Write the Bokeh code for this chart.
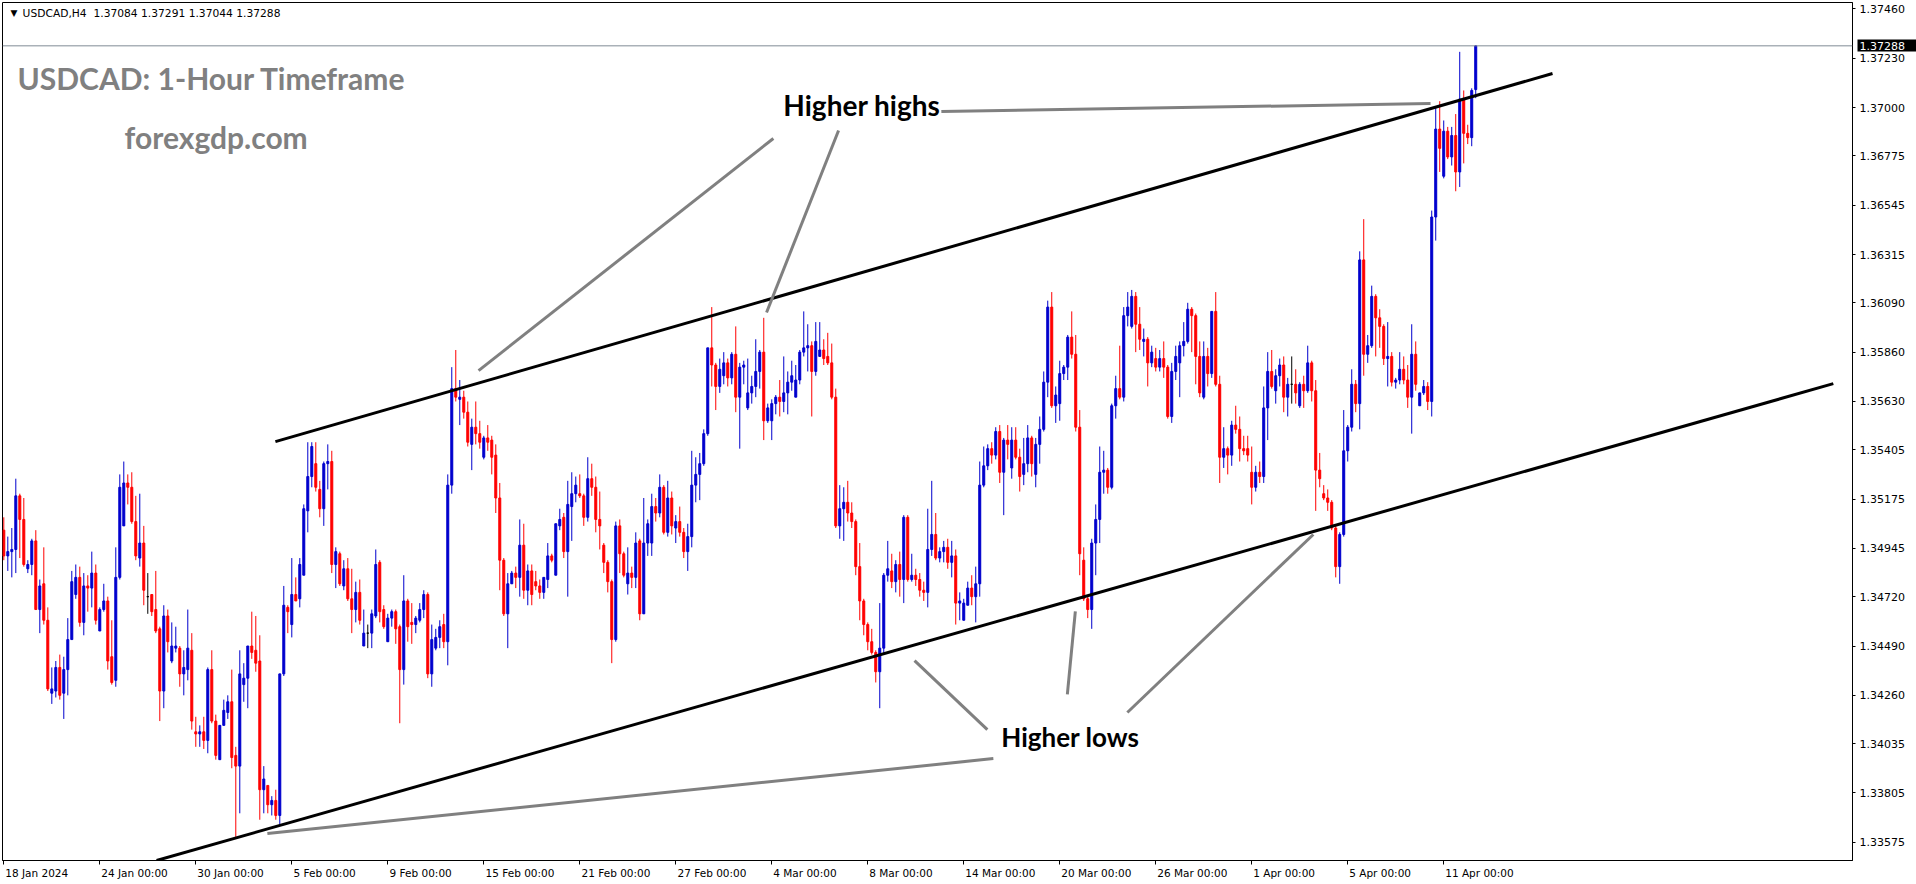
from bokeh.plotting import figure
from bokeh.models import (Range1d, FixedTicker, PrintfTickFormatter, ColumnDataSource, Span,
                          LinearAxis, CustomJSTickFormatter)
from bokeh.core.properties import value
from bokeh.embed import file_html
from bokeh.resources import INLINE

# ---------------- data (USDCAD H4, bar index 0 = 18 Jan 2024 00:00) ----------------
opens = [
1.3503,1.3491,1.3493,1.3494,1.3519,1.3508,1.3485,1.3487,1.3498,1.3466,
1.3478,1.3461,1.3427,1.3428,1.3439,1.3427,1.3438,1.3452,1.3473,1.3481,
1.3460,1.3477,1.3476,1.3483,1.3456,1.3466,1.3470,1.3444,1.3433,1.3481,
1.3505,1.3525,1.3523,1.3507,1.3490,1.3497,1.3472,1.3473,1.3466,1.3457,
1.3428,1.3463,1.3442,1.3448,1.3448,1.3436,1.3438,1.3447,1.3409,1.3408,
1.3409,1.3405,1.3438,1.3414,1.3396,1.3412,1.3418,1.3423,1.3398,1.3393,
1.3431,1.3434,1.3449,1.3447,1.3442,1.3382,1.3384,1.3375,1.3377,1.3370,
1.3436,1.3467,1.3459,1.3473,1.3471,1.3482,1.3512,1.3528,1.3534,1.3522,
1.3513,1.3534,1.3535,1.3487,1.3492,1.3477,1.3485,1.3471,1.3466,1.3474,
1.3449,1.3455,1.3455,1.3463,1.3488,1.3466,1.3451,1.3462,1.3465,1.3458,
1.3438,1.3470,1.3460,1.3459,1.3461,1.3466,1.3473,1.3436,1.3448,1.3453,
1.3459,1.3451,1.3524,1.3569,1.3564,1.3565,1.3558,1.3543,1.3551,1.3548,
1.3537,1.3546,1.3545,1.3538,1.3518,1.3489,1.3464,1.3478,1.3483,1.3481,
1.3496,1.3475,1.3484,1.3479,1.3477,1.3474,1.3480,1.3491,1.3482,1.3505,
1.3509,1.3493,1.3514,1.3520,1.3520,1.3519,1.3509,1.3527,1.3523,1.3508,
1.3496,1.3488,1.3479,1.3452,1.3505,1.3492,1.3478,1.3483,1.3481,1.3498,
1.3464,1.3497,1.3497,1.3514,1.3511,1.3523,1.3502,1.3518,1.3504,1.3507,
1.3502,1.3493,1.3500,1.3524,1.3529,1.3534,1.3548,1.3588,1.3580,1.3570,
1.3575,1.3581,1.3574,1.3585,1.3565,1.3579,1.3560,1.3567,1.3570,1.3577,
1.3586,1.3554,1.3554,1.3562,1.3565,1.3563,1.3567,1.3572,1.3565,1.3573,
1.3586,1.3588,1.3589,1.3577,1.3584,1.3587,1.3584,1.3581,1.3565,1.3505,
1.3513,1.3516,1.3511,1.3507,1.3486,1.3470,1.3459,1.3451,1.3446,1.3437,
1.3448,1.3482,1.3484,1.3479,1.3487,1.3480,1.3509,1.3480,1.3482,1.3480,
1.3475,1.3474,1.3494,1.3501,1.3490,1.3493,1.3495,1.3488,1.3491,1.3469,
1.3461,1.3468,1.3476,1.3472,1.3478,1.3524,1.3533,1.3541,1.3538,1.3549,
1.3530,1.3545,1.3532,1.3545,1.3537,1.3529,1.3534,1.3546,1.3529,1.3543,
1.3550,1.3572,1.3607,1.3561,1.3562,1.3576,1.3579,1.3593,1.3585,1.3551,
1.3489,1.3471,1.3466,1.3497,1.3508,1.3530,1.3531,1.3523,1.3561,1.3569,
1.3565,1.3603,1.3598,1.3612,1.3599,1.3591,1.3592,1.3581,1.3583,1.3579,
1.3583,1.3579,1.3556,1.3577,1.3581,1.3589,1.3591,1.3606,1.3603,1.3584,
1.3565,1.3584,1.3576,1.3605,1.3571,1.3537,1.3541,1.3538,1.3552,1.3550,
1.3541,1.3541,1.3530,1.3523,1.3530,1.3528,1.3560,1.3577,1.3568,1.3575,
1.3580,1.3565,1.3571,1.3571,1.3561,1.3571,1.3568,1.3581,1.3568,1.3531,
1.3520,1.3518,1.3516,1.3504,1.3486,1.3501,1.3540,1.3551,1.3571,1.3562,
1.3629,1.3585,1.3589,1.3612,1.3602,1.3598,1.3583,1.3584,1.3572,1.3573,
1.3578,1.3573,1.3565,1.3585,1.3561,1.3567,1.3570,1.3563,1.3649,1.3690,
1.3668,1.3689,1.3677,1.3687,1.3670,1.3704,1.3688,1.3686,1.37084,
]
highs = [
1.3509,1.3500,1.3504,1.3527,1.3520,1.3518,1.3489,1.3499,1.3503,1.3480,
1.3495,1.3467,1.3439,1.3442,1.3445,1.3444,1.3462,1.3484,1.3487,1.3486,
1.3483,1.3482,1.3493,1.3487,1.3467,1.3478,1.3472,1.3461,1.3495,1.3529,
1.3535,1.3529,1.3530,1.3519,1.3520,1.3505,1.3483,1.3473,1.3484,1.3458,
1.3468,1.3466,1.3460,1.3458,1.3449,1.3447,1.3466,1.3455,1.3416,1.3412,
1.3416,1.3439,1.3447,1.3417,1.3412,1.3424,1.3426,1.3438,1.3402,1.3447,
1.3441,1.3449,1.3465,1.3463,1.3454,1.3393,1.3384,1.3379,1.3382,1.3436,
1.3477,1.3468,1.3490,1.3481,1.3490,1.3515,1.3544,1.3544,1.3544,1.3526,
1.3535,1.3543,1.3540,1.3495,1.3493,1.3489,1.3490,1.3485,1.3479,1.3480,
1.3466,1.3459,1.3466,1.3494,1.3489,1.3468,1.3464,1.3466,1.3466,1.3459,
1.3482,1.3471,1.3469,1.3463,1.3469,1.3475,1.3474,1.3459,1.3457,1.3461,
1.3464,1.3529,1.3579,1.3587,1.3573,1.3568,1.3563,1.3555,1.3563,1.3554,
1.3547,1.3552,1.3547,1.3543,1.3525,1.3490,1.3483,1.3484,1.3486,1.3508,
1.3506,1.3487,1.3487,1.3484,1.3480,1.3481,1.3497,1.3492,1.3506,1.3513,
1.3511,1.3526,1.3530,1.3528,1.3529,1.3520,1.3537,1.3534,1.3528,1.3521,
1.3497,1.3489,1.3480,1.3507,1.3508,1.3493,1.3495,1.3486,1.3502,1.3499,
1.3518,1.3508,1.3520,1.3518,1.3529,1.3524,1.3526,1.3521,1.3510,1.3514,
1.3504,1.3506,1.3540,1.3537,1.3539,1.3550,1.3588,1.3607,1.3581,1.3583,
1.3586,1.3583,1.3586,1.3598,1.3581,1.3582,1.3583,1.3575,1.3592,1.3587,
1.3602,1.3562,1.3564,1.3566,1.3573,1.3584,1.3577,1.3582,1.3580,1.3587,
1.3605,1.3599,1.3591,1.3600,1.3600,1.3592,1.3595,1.3590,1.3569,1.3524,
1.3523,1.3526,1.3516,1.3508,1.3497,1.3471,1.3460,1.3457,1.3447,1.3469,
1.3483,1.3498,1.3492,1.3489,1.3493,1.3510,1.3510,1.3492,1.3485,1.3483,
1.3479,1.3513,1.3526,1.3511,1.3495,1.3498,1.3499,1.3498,1.3494,1.3474,
1.3471,1.3479,1.3482,1.3486,1.3535,1.3542,1.3543,1.3544,1.3551,1.3552,
1.3546,1.3552,1.3551,1.3551,1.3541,1.3546,1.3552,1.3547,1.3546,1.3556,
1.3577,1.3610,1.3614,1.3570,1.3582,1.3580,1.3594,1.3605,1.3594,1.3559,
1.3495,1.3472,1.3499,1.3515,1.3542,1.3540,1.3532,1.3562,1.3575,1.3589,
1.3607,1.3614,1.3615,1.3614,1.3607,1.3597,1.3593,1.3589,1.3588,1.3587,
1.3591,1.3580,1.3581,1.3589,1.3591,1.3600,1.3609,1.3607,1.3604,1.3591,
1.3591,1.3588,1.3605,1.3614,1.3575,1.3551,1.3542,1.3554,1.3561,1.3556,
1.3547,1.3547,1.3542,1.3533,1.3535,1.3570,1.3586,1.3587,1.3578,1.3583,
1.3584,1.3574,1.3584,1.3578,1.3572,1.3575,1.3589,1.3582,1.3573,1.3539,
1.3524,1.3522,1.3517,1.3505,1.3502,1.3559,1.3552,1.3578,1.3573,1.3633,
1.3648,1.3594,1.3617,1.3613,1.3606,1.3599,1.3600,1.3586,1.3574,1.3586,
1.3584,1.3580,1.3599,1.3591,1.3567,1.3573,1.3572,1.3652,1.3700,1.3703,
1.3694,1.3691,1.3691,1.3697,1.3726,1.3708,1.3692,1.3709,1.37291,
]
lows = [
1.3489,1.3484,1.3481,1.3483,1.3490,1.3486,1.3483,1.3482,1.3466,1.3455,
1.3459,1.3428,1.3422,1.3425,1.3424,1.3415,1.3426,1.3452,1.3471,1.3458,
1.3454,1.3465,1.3467,1.3459,1.3456,1.3465,1.3438,1.3431,1.3430,1.3480,
1.3505,1.3515,1.3506,1.3489,1.3486,1.3468,1.3464,1.3463,1.3455,1.3414,
1.3420,1.3446,1.3441,1.3446,1.3430,1.3426,1.3433,1.3410,1.3402,1.3402,
1.3401,1.3399,1.3413,1.3396,1.3396,1.3412,1.3415,1.3392,1.3360,1.3371,
1.3423,1.3420,1.3443,1.3437,1.3368,1.3371,1.3371,1.3370,1.3368,1.3366,
1.3435,1.3455,1.3453,1.3470,1.3467,1.3482,1.3502,1.3523,1.3521,1.3509,
1.3505,1.3522,1.3483,1.3476,1.3477,1.3475,1.3470,1.3455,1.3460,1.3459,
1.3449,1.3448,1.3448,1.3462,1.3460,1.3457,1.3451,1.3458,1.3450,1.3413,
1.3431,1.3451,1.3450,1.3455,1.3460,1.3462,1.3434,1.3430,1.3447,1.3448,
1.3448,1.3440,1.3520,1.3563,1.3552,1.3555,1.3542,1.3531,1.3543,1.3541,
1.3536,1.3540,1.3529,1.3511,1.3475,1.3463,1.3448,1.3478,1.3476,1.3472,
1.3471,1.3468,1.3468,1.3475,1.3471,1.3471,1.3476,1.3488,1.3482,1.3503,
1.3490,1.3472,1.3498,1.3516,1.3518,1.3505,1.3507,1.3519,1.3502,1.3494,
1.3483,1.3474,1.3441,1.3451,1.3483,1.3481,1.3473,1.3476,1.3476,1.3461,
1.3464,1.3491,1.3491,1.3507,1.3509,1.3501,1.3500,1.3501,1.3497,1.3500,
1.3490,1.3484,1.3495,1.3516,1.3517,1.3533,1.3547,1.3570,1.3559,1.3567,
1.3571,1.3570,1.3571,1.3558,1.3541,1.3571,1.3559,1.3562,1.3565,1.3569,
1.3545,1.3553,1.3545,1.3557,1.3556,1.3558,1.3557,1.3568,1.3565,1.3571,
1.3584,1.3577,1.3556,1.3575,1.3584,1.3580,1.3580,1.3564,1.3504,1.3499,
1.3498,1.3507,1.3504,1.3482,1.3461,1.3454,1.3447,1.3445,1.3432,1.3420,
1.3445,1.3479,1.3476,1.3474,1.3472,1.3469,1.3479,1.3479,1.3477,1.3472,
1.3470,1.3467,1.3491,1.3489,1.3488,1.3488,1.3485,1.3481,1.3459,1.3461,
1.3461,1.3468,1.3468,1.3460,1.3472,1.3523,1.3531,1.3534,1.3536,1.3525,
1.3510,1.3536,1.3527,1.3536,1.3521,1.3524,1.3530,1.3528,1.3523,1.3534,
1.3549,1.3565,1.3560,1.3553,1.3554,1.3573,1.3573,1.3583,1.3549,1.3482,
1.3470,1.3462,1.3457,1.3482,1.3497,1.3520,1.3520,1.3522,1.3555,1.3564,
1.3563,1.3598,1.3597,1.3586,1.3587,1.3584,1.3570,1.3579,1.3577,1.3577,
1.3574,1.3555,1.3553,1.3573,1.3565,1.3584,1.3590,1.3586,1.3571,1.3565,
1.3564,1.3570,1.3574,1.3570,1.3525,1.3532,1.3529,1.3533,1.3548,1.3535,
1.3538,1.3535,1.3515,1.3521,1.3525,1.3525,1.3545,1.3569,1.3562,1.3570,
1.3558,1.3556,1.3562,1.3562,1.3560,1.3560,1.3567,1.3563,1.3512,1.3523,
1.3517,1.3512,1.3503,1.3481,1.3478,1.3500,1.3535,1.3549,1.3558,1.3550,
1.3575,1.3581,1.3588,1.3584,1.3588,1.3580,1.3570,1.3570,1.3569,1.3571,
1.3571,1.3560,1.3548,1.3568,1.3561,1.3566,1.3559,1.3556,1.3638,1.3670,
1.3667,1.3676,1.3673,1.3661,1.3663,1.3674,1.3683,1.3682,1.37044,
]
closes = [
1.3491,1.3493,1.3494,1.3519,1.3508,1.3487,1.3487,1.3498,1.3466,1.3477,
1.3461,1.3429,1.3429,1.3439,1.3426,1.3438,1.3452,1.3479,1.3481,1.3460,
1.3477,1.3476,1.3483,1.3461,1.3466,1.3470,1.3442,1.3432,1.3481,1.3523,
1.3525,1.3523,1.3507,1.3491,1.3497,1.3475,1.3472,1.3465,1.3456,1.3428,
1.3463,1.3451,1.3449,1.3449,1.3436,1.3439,1.3448,1.3414,1.3408,1.3409,
1.3405,1.3438,1.3414,1.3398,1.3412,1.3419,1.3423,1.3397,1.3393,1.3436,
1.3434,1.3449,1.3446,1.3441,1.3382,1.3387,1.3375,1.3377,1.3370,1.3436,
1.3468,1.3465,1.3473,1.3470,1.3487,1.3513,1.3528,1.3542,1.3523,1.3513,
1.3534,1.3535,1.3487,1.3493,1.3478,1.3485,1.3471,1.3466,1.3474,1.3461,
1.3455,1.3455,1.3464,1.3487,1.3465,1.3458,1.3462,1.3465,1.3457,1.3438,
1.3470,1.3458,1.3459,1.3462,1.3466,1.3473,1.3436,1.3452,1.3453,1.3458,
1.3451,1.3524,1.3569,1.3565,1.3565,1.3558,1.3544,1.3551,1.3548,1.3544,
1.3546,1.3544,1.3537,1.3518,1.3489,1.3464,1.3478,1.3483,1.3481,1.3496,
1.3475,1.3484,1.3473,1.3477,1.3474,1.3481,1.3491,1.3489,1.3506,1.3508,
1.3493,1.3515,1.3520,1.3524,1.3519,1.3509,1.3527,1.3523,1.3508,1.3505,
1.3488,1.3479,1.3452,1.3505,1.3492,1.3482,1.3483,1.3481,1.3497,1.3464,
1.3497,1.3506,1.3514,1.3511,1.3523,1.3502,1.3518,1.3505,1.3507,1.3502,
1.3493,1.3500,1.3524,1.3529,1.3534,1.3548,1.3588,1.3580,1.3570,1.3578,
1.3581,1.3574,1.3585,1.3565,1.3579,1.3580,1.3567,1.3570,1.3577,1.3586,
1.3554,1.3560,1.3562,1.3565,1.3563,1.3567,1.3572,1.3575,1.3573,1.3586,
1.3588,1.3589,1.3577,1.3591,1.3587,1.3583,1.3581,1.3565,1.3505,1.3513,
1.3516,1.3511,1.3507,1.3486,1.3470,1.3459,1.3451,1.3446,1.3437,1.3448,
1.3482,1.3485,1.3479,1.3487,1.3480,1.3509,1.3480,1.3482,1.3480,1.3475,
1.3474,1.3494,1.3501,1.3490,1.3493,1.3495,1.3488,1.3491,1.3469,1.3470,
1.3469,1.3476,1.3472,1.3478,1.3524,1.3533,1.3541,1.3538,1.3549,1.3530,
1.3545,1.3543,1.3545,1.3537,1.3528,1.3534,1.3546,1.3534,1.3543,1.3550,
1.3572,1.3607,1.3561,1.3566,1.3576,1.3579,1.3593,1.3585,1.3551,1.3492,
1.3471,1.3466,1.3497,1.3508,1.3530,1.3531,1.3523,1.3561,1.3569,1.3565,
1.3603,1.3607,1.3612,1.3599,1.3592,1.3592,1.3581,1.3586,1.3579,1.3583,
1.3579,1.3556,1.3577,1.3584,1.3589,1.3591,1.3606,1.3603,1.3584,1.3567,
1.3584,1.3576,1.3605,1.3571,1.3537,1.3541,1.3538,1.3552,1.3550,1.3541,
1.3540,1.3538,1.3523,1.3530,1.3528,1.3560,1.3577,1.3570,1.3575,1.3580,
1.3565,1.3571,1.3571,1.3567,1.3571,1.3568,1.3581,1.3568,1.3531,1.3527,
1.3518,1.3516,1.3504,1.3486,1.3501,1.3540,1.3551,1.3571,1.3562,1.3629,
1.3585,1.3589,1.3612,1.3602,1.3598,1.3583,1.3584,1.3572,1.3573,1.3578,
1.3573,1.3565,1.3585,1.3571,1.3567,1.3570,1.3563,1.3649,1.3690,1.3681,
1.3689,1.3677,1.3687,1.3670,1.3704,1.3688,1.3686,1.3708,1.37288,
]

y_ticks = [1.37460, 1.37230, 1.37000, 1.36775, 1.36545, 1.36315, 1.36090, 1.35860, 1.35630,
           1.35405, 1.35175, 1.34945, 1.34720, 1.34490, 1.34260, 1.34035, 1.33805, 1.33575]
x_tick_bars = [0, 24, 48, 72, 96, 120, 144, 168, 192, 216, 240, 264, 288, 312, 336, 360]
x_tick_labels = ["18 Jan 2024", "24 Jan 00:00", "30 Jan 00:00", "5 Feb 00:00", "9 Feb 00:00",
                 "15 Feb 00:00", "21 Feb 00:00", "27 Feb 00:00", "4 Mar 00:00", "8 Mar 00:00",
                 "14 Mar 00:00", "20 Mar 00:00", "26 Mar 00:00", "1 Apr 00:00", "5 Apr 00:00",
                 "11 Apr 00:00"]
last_price = 1.37288
header_text = "USDCAD,H4\u00a0 1.37084 1.37291 1.37044 1.37288"

# trend channel (bar index, price)
upper_channel_x = [67.9, 387.2]
upper_channel_y = [1.35443, 1.37159]
lower_channel_x = [38.2, 457.4]
lower_channel_y = [1.33490, 1.35713]

# annotation pointer lines (x0, y0, x1, y1)
ptr_x0 = [192.4, 208.7, 234.4, 247.4, 245.9, 265.9, 280.9]
ptr_y0 = [1.36856, 1.36893, 1.36982, 1.33965, 1.34100, 1.34264, 1.34180]
ptr_x1 = [118.7, 190.7, 356.7, 65.9, 227.7, 267.9, 327.4]
ptr_y1 = [1.35774, 1.36045, 1.37019, 1.33616, 1.34422, 1.34651, 1.35010]

# ---------------- figure ----------------
FRAME_W, FRAME_H = 1850, 858
X0, X1 = -0.325, 462.2
p = figure(frame_width=FRAME_W, frame_height=FRAME_H,
           x_range=Range1d(X0, X1), y_range=Range1d(1.33490, 1.37490),
           y_axis_location="right", output_backend="svg", toolbar_location=None,
           min_border_left=2, min_border_top=2, min_border_right=64, min_border_bottom=24,
           background_fill_color="white", border_fill_color="white",
           outline_line_color="black", outline_line_width=1)
p.xgrid.visible = False
p.ygrid.visible = False

# right price axis
ya = p.yaxis[0]
ya.ticker = FixedTicker(ticks=y_ticks)
ya.formatter = PrintfTickFormatter(format="%.5f")
ya.major_label_text_font = "DejaVu Sans"
ya.major_label_text_font_size = "11px"
ya.major_label_text_color = "black"
ya.major_tick_out = 3
ya.major_tick_in = 0
ya.minor_tick_out = 0
ya.minor_tick_in = 0
ya.major_label_standoff = 4
ya.axis_line_color = "black"

# current-price tag: a second right axis whose single tick is drawn as a black box
tag = LinearAxis(ticker=FixedTicker(ticks=[last_price]),
                 formatter=PrintfTickFormatter(format="%.5f"),
                 axis_line_color=None, minor_tick_out=0, minor_tick_in=0,
                 major_tick_in=50, major_tick_out=10,
                 major_tick_line_color="black", major_tick_line_width=12,
                 major_label_standoff=-58,
                 major_label_text_font="DejaVu Sans", major_label_text_font_size="11px",
                 major_label_text_color="white")
p.add_layout(tag, "right")

# time axis: tick marks at the dates (minor ticks), labels left-aligned to them like MT4
CHAR_EM = {'0': .636, '1': .636, '2': .636, '3': .636, '4': .636, '5': .636, '6': .636,
           '7': .636, '8': .636, '9': .636, ' ': .318, ':': .337, 'J': .295, 'a': .613,
           'n': .634, 'F': .575, 'e': .615, 'b': .635, 'M': .863, 'r': .411, 'A': .684,
           'p': .635}
LABEL_PX = 10.5
px_per_bar = FRAME_W / (X1 - X0)
label_pos = [b + (sum(CHAR_EM.get(ch, .6) for ch in t) * LABEL_PX / 2 + 1.5) / px_per_bar
             for b, t in zip(x_tick_bars, x_tick_labels)]
xa = p.xaxis[0]
xa.ticker = FixedTicker(ticks=label_pos, minor_ticks=x_tick_bars)
xa.formatter = CustomJSTickFormatter(args=dict(labels=x_tick_labels), code="return labels[index];")
xa.major_label_text_font = "DejaVu Sans"
xa.major_label_text_font_size = f"{LABEL_PX}px"
xa.major_label_text_color = "black"
xa.major_tick_out = 0
xa.major_tick_in = 0
xa.minor_tick_out = 4
xa.minor_tick_in = 0
xa.minor_tick_line_color = "black"
xa.major_label_standoff = 2
xa.axis_line_color = "black"

# candles
bars = list(range(len(closes)))
colors = []
for o, c in zip(opens, closes):
    if c > o:
        colors.append("#0000cd")
    elif c < o:
        colors.append("#ff0000")
    else:
        colors.append("#000000")
src = ColumnDataSource(dict(
    x=bars, h=highs, l=lows,
    top=[max(o, c) for o, c in zip(opens, closes)],
    bottom=[min(o, c) for o, c in zip(opens, closes)],
    color=colors))
p.segment(x0="x", y0="l", x1="x", y1="h", line_color="color", line_width=1, source=src)
p.vbar(x="x", width=0.5, top="top", bottom="bottom", fill_color="color",
       line_color="color", line_width=1, source=src)

# current price line
p.add_layout(Span(location=last_price, dimension="width", line_color="#808b96", line_width=1))

# channel lines
p.line(upper_channel_x, upper_channel_y, line_color="black", line_width=3)
p.line(lower_channel_x, lower_channel_y, line_color="black", line_width=3)

# pointer lines
p.segment(x0=ptr_x0, y0=ptr_y0, x1=ptr_x1, y1=ptr_y1, line_color="#808080", line_width=3)

# texts
p.text(x=[1.7], y=[1.37440], text=["\u25bc"], text_font=value("DejaVu Sans"),
       text_font_size="9px", text_color="black", text_baseline="alphabetic")
p.text(x=[4.7], y=[1.37440], text=[header_text], text_font=value("DejaVu Sans"),
       text_font_size="10.7px", text_color="black", text_baseline="alphabetic")
p.text(x=[3.43, 30.2], y=[1.37140, 1.36865], text=["USDCAD: 1-Hour Timeframe", "forexgdp.com"],
       text_font=value("Lato"), text_font_style="bold", text_font_size="30px",
       text_color="#808080", text_baseline="alphabetic")
p.text(x=[194.9], y=[1.37010], text=["Higher highs"],
       text_font=value("Lato"), text_font_style="bold", text_font_size="28px",
       text_color="black", text_baseline="alphabetic")
p.text(x=[249.4], y=[1.34068], text=["Higher lows"],
       text_font=value("Lato"), text_font_style="bold", text_font_size="26px",
       text_color="black", text_baseline="alphabetic")

open("out.html", "w").write(file_html(p, INLINE))
